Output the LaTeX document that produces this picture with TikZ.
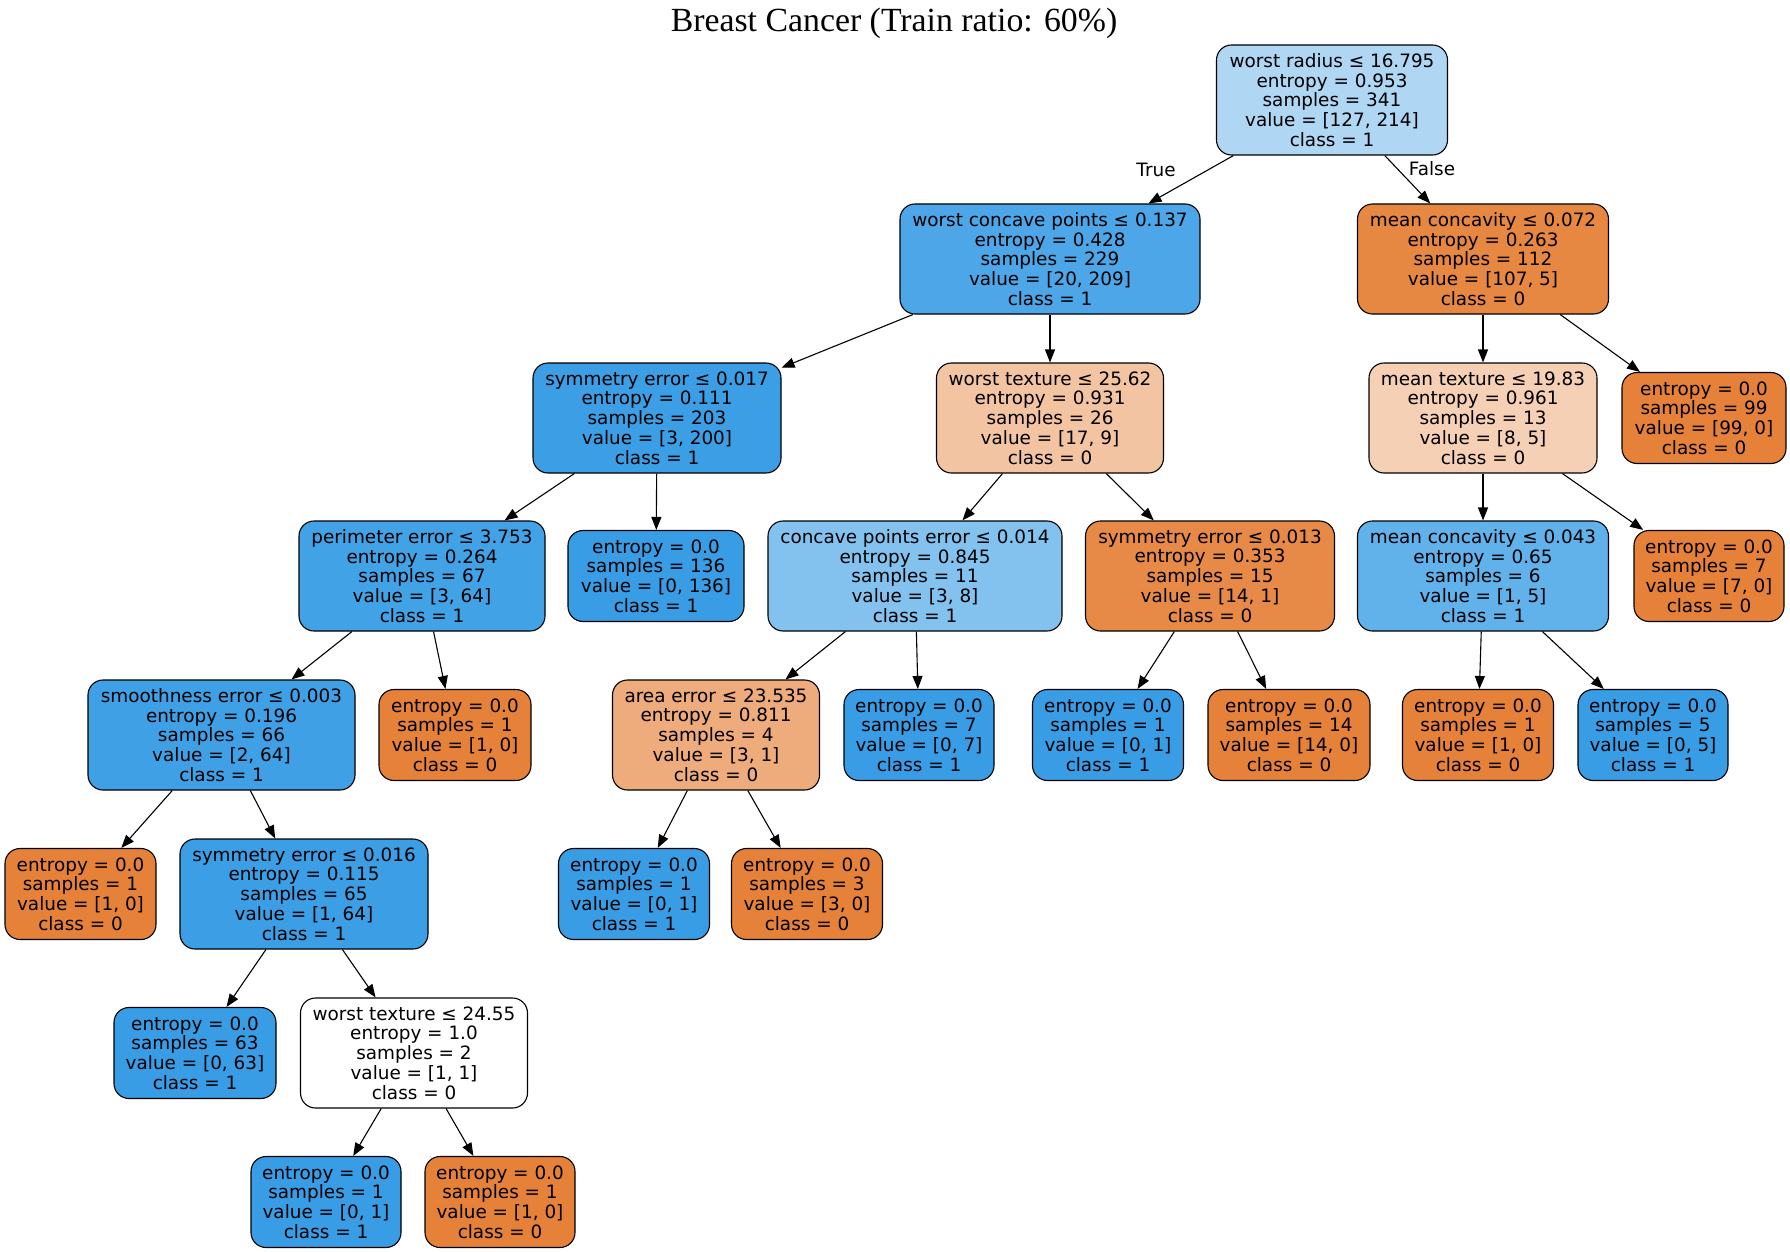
\documentclass[tikz,border=0pt]{standalone}
\usepackage{fontspec}
\setmainfont{DejaVu Sans}
\newfontfamily\titlefont{Liberation Serif}
\usetikzlibrary{arrows.meta}
\definecolor{c0}{RGB}{175,215,244}
\definecolor{c1}{RGB}{76,166,231}
\definecolor{c2}{RGB}{230,135,66}
\definecolor{c3}{RGB}{60,158,229}
\definecolor{c4}{RGB}{243,196,162}
\definecolor{c5}{RGB}{245,208,181}
\definecolor{corange}{RGB}{229,129,57}
\definecolor{cblue}{RGB}{57,157,229}
\definecolor{c7}{RGB}{66,162,230}
\definecolor{c9}{RGB}{131,194,239}
\definecolor{c10}{RGB}{231,138,71}
\definecolor{c11}{RGB}{97,177,234}
\definecolor{c13}{RGB}{63,160,230}
\definecolor{c15}{RGB}{238,171,123}
\definecolor{c22}{RGB}{60,158,229}
\tikzset{
  tn/.style={draw=black, line width=0.55pt, rounded corners=7.5pt, align=center, inner sep=0pt,
    font=\fontsize{9.2pt}{9.9pt}\selectfont, minimum height=55pt},
  lf/.style={tn, minimum height=45.5pt},
  wd/.style={minimum width={#1*0.5pt}},
  edge/.style={line width=0.55pt, -{Triangle[length=6.5pt,width=5pt]}},
  elab/.style={font=\fontsize{9.2pt}{9.9pt}\selectfont, inner sep=0pt}
}
\begin{document}
\begin{tikzpicture}[x=0.5pt,y=-0.5pt]
\useasboundingbox (0,0) rectangle (1790,1252);
\node[font=\titlefont\fontsize{16.9pt}{18pt}\selectfont, inner sep=0pt] (title) at (894,23) {Breast Cancer (Train ratio: 60\%)};
% level 0
\node[tn, wd=231, fill=c0] (n0) at (1332,100) {worst radius ≤ 16.795\\entropy = 0.953\\samples = 341\\value = [127, 214]\\class = 1};
% level 1
\node[tn, wd=300, fill=c1] (n1) at (1050,259) {worst concave points ≤ 0.137\\entropy = 0.428\\samples = 229\\value = [20, 209]\\class = 1};
\node[tn, wd=251, fill=c2] (n2) at (1483,259) {mean concavity ≤ 0.072\\entropy = 0.263\\samples = 112\\value = [107, 5]\\class = 0};
% level 2
\node[tn, wd=248, fill=c3] (n3) at (657,418) {symmetry error ≤ 0.017\\entropy = 0.111\\samples = 203\\value = [3, 200]\\class = 1};
\node[tn, wd=227, fill=c4] (n4) at (1050,418) {worst texture ≤ 25.62\\entropy = 0.931\\samples = 26\\value = [17, 9]\\class = 0};
\node[tn, wd=228, fill=c5] (n5) at (1483,418) {mean texture ≤ 19.83\\entropy = 0.961\\samples = 13\\value = [8, 5]\\class = 0};
\node[lf, wd=164, fill=corange] (n6) at (1704,418) {entropy = 0.0\\samples = 99\\value = [99, 0]\\class = 0};
% level 3
\node[tn, wd=246, fill=c7] (n7) at (422,576) {perimeter error ≤ 3.753\\entropy = 0.264\\samples = 67\\value = [3, 64]\\class = 1};
\node[lf, wd=176, fill=cblue] (n8) at (656,576) {entropy = 0.0\\samples = 136\\value = [0, 136]\\class = 1};
\node[tn, wd=294, fill=c9] (n9) at (915,576) {concave points error ≤ 0.014\\entropy = 0.845\\samples = 11\\value = [3, 8]\\class = 1};
\node[tn, wd=249, fill=c10] (n10) at (1210,576) {symmetry error ≤ 0.013\\entropy = 0.353\\samples = 15\\value = [14, 1]\\class = 0};
\node[tn, wd=251, fill=c11] (n11) at (1483,576) {mean concavity ≤ 0.043\\entropy = 0.65\\samples = 6\\value = [1, 5]\\class = 1};
\node[lf, wd=150, fill=corange] (n12) at (1709,576) {entropy = 0.0\\samples = 7\\value = [7, 0]\\class = 0};
% level 4
\node[tn, wd=267, fill=c13] (n13) at (221.5,735) {smoothness error ≤ 0.003\\entropy = 0.196\\samples = 66\\value = [2, 64]\\class = 1};
\node[lf, wd=152, fill=corange] (n14) at (455,735) {entropy = 0.0\\samples = 1\\value = [1, 0]\\class = 0};
\node[tn, wd=207, fill=c15] (n15) at (716,735) {area error ≤ 23.535\\entropy = 0.811\\samples = 4\\value = [3, 1]\\class = 0};
\node[lf, wd=150, fill=cblue] (n16) at (919,735) {entropy = 0.0\\samples = 7\\value = [0, 7]\\class = 1};
\node[lf, wd=151, fill=cblue] (n17) at (1108,735) {entropy = 0.0\\samples = 1\\value = [0, 1]\\class = 1};
\node[lf, wd=162, fill=corange] (n18) at (1289,735) {entropy = 0.0\\samples = 14\\value = [14, 0]\\class = 0};
\node[lf, wd=151, fill=corange] (n19) at (1478,735) {entropy = 0.0\\samples = 1\\value = [1, 0]\\class = 0};
\node[lf, wd=150, fill=cblue] (n20) at (1653,735) {entropy = 0.0\\samples = 5\\value = [0, 5]\\class = 1};
% level 5
\node[lf, wd=151, fill=corange] (n21) at (80.5,894) {entropy = 0.0\\samples = 1\\value = [1, 0]\\class = 0};
\node[tn, wd=248, fill=c22] (n22) at (304,894) {symmetry error ≤ 0.016\\entropy = 0.115\\samples = 65\\value = [1, 64]\\class = 1};
\node[lf, wd=151, fill=cblue] (n23) at (634,894) {entropy = 0.0\\samples = 1\\value = [0, 1]\\class = 1};
\node[lf, wd=151, fill=corange] (n24) at (807,894) {entropy = 0.0\\samples = 3\\value = [3, 0]\\class = 0};
% level 6
\node[lf, wd=162, fill=cblue] (n25) at (195,1053) {entropy = 0.0\\samples = 63\\value = [0, 63]\\class = 1};
\node[tn, wd=227, fill=white] (n26) at (414,1053) {worst texture ≤ 24.55\\entropy = 1.0\\samples = 2\\value = [1, 1]\\class = 0};
% level 7
\node[lf, wd=150, fill=cblue] (n27) at (326,1202) {entropy = 0.0\\samples = 1\\value = [0, 1]\\class = 1};
\node[lf, wd=150, fill=corange] (n28) at (500,1202) {entropy = 0.0\\samples = 1\\value = [1, 0]\\class = 0};
% edges
\draw[edge] (n0) -- (n1);
\draw[edge] (n0) -- (n2);
\draw[edge] (n1) -- (n3);
\draw[edge] (n1) -- (n4);
\draw[edge] (n2) -- (n5);
\draw[edge] (n2) -- (n6);
\draw[edge] (n3) -- (n7);
\draw[edge] (n3) -- (n8);
\draw[edge] (n4) -- (n9);
\draw[edge] (n4) -- (n10);
\draw[edge] (n5) -- (n11);
\draw[edge] (n5) -- (n12);
\draw[edge] (n7) -- (n13);
\draw[edge] (n7) -- (n14);
\draw[edge] (n9) -- (n15);
\draw[edge] (n9) -- (n16);
\draw[edge] (n10) -- (n17);
\draw[edge] (n10) -- (n18);
\draw[edge] (n11) -- (n19);
\draw[edge] (n11) -- (n20);
\draw[edge] (n13) -- (n21);
\draw[edge] (n13) -- (n22);
\draw[edge] (n15) -- (n23);
\draw[edge] (n15) -- (n24);
\draw[edge] (n22) -- (n25);
\draw[edge] (n22) -- (n26);
\draw[edge] (n26) -- (n27);
\draw[edge] (n26) -- (n28);
\node[elab] (lt) at (1156,170) {True};
\node[elab] (lfl) at (1432,169) {False};
\end{tikzpicture}
\end{document}
